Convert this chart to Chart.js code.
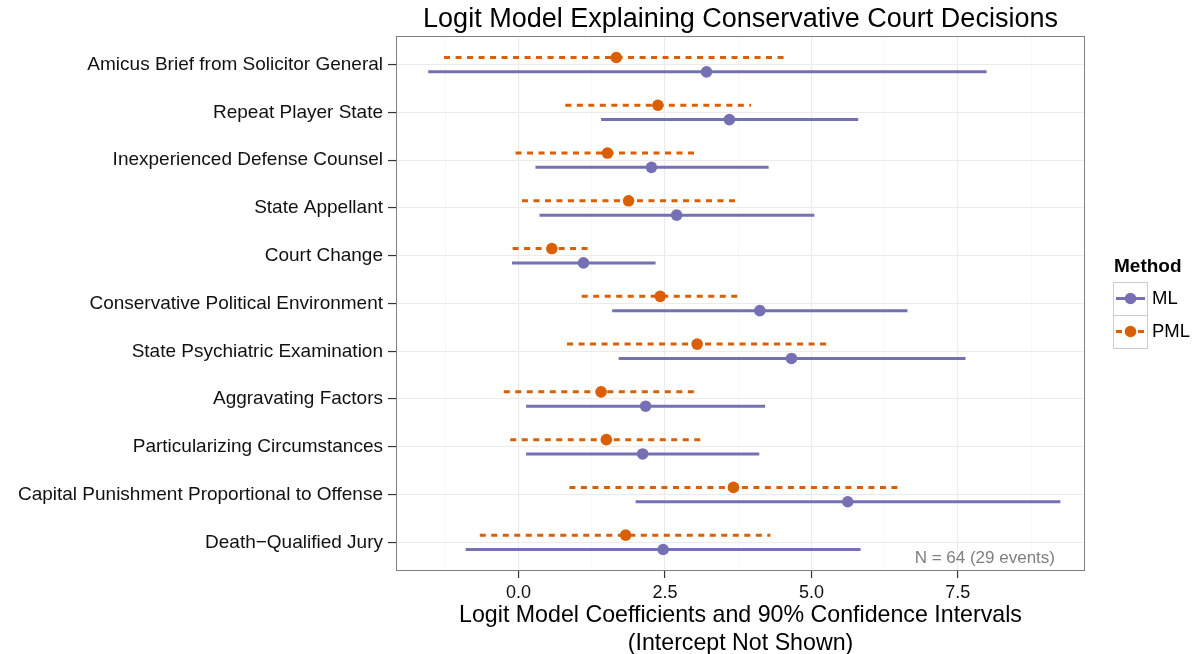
<!DOCTYPE html>
<html lang="en">
<head>
<meta charset="UTF-8">
<title>Logit Model Explaining Conservative Court Decisions</title>
<script src="https://cdn.jsdelivr.net/npm/chart.js@4.4.0/dist/chart.umd.min.js"></script>
<style>
body { margin: 0; background: #fff; }
#wrap { width: 1193px; height: 654px; }
</style>
</head>
<body>
<div id="wrap"><canvas id="courtChart" width="1193" height="654"></canvas></div>
<script>
// coefficient names, top to bottom
const categories = [
    "Amicus Brief from Solicitor General",
    "Repeat Player State",
    "Inexperienced Defense Counsel",
    "State Appellant",
    "Court Change",
    "Conservative Political Environment",
    "State Psychiatric Examination",
    "Aggravating Factors",
    "Particularizing Circumstances",
    "Capital Punishment Proportional to Offense",
    "Death\u2212Qualified Jury"
];

// ML estimates and 90% intervals
const mlEst  = [3.21, 3.60, 2.27, 2.70, 1.11, 4.12, 4.66, 2.17, 2.12, 5.62, 2.47];
const mlLow  = [-1.54, 1.41, 0.29, 0.36, -0.11, 1.60, 1.71, 0.13, 0.13, 2.00, -0.90];
const mlHigh = [7.99, 5.80, 4.27, 5.05, 2.34, 6.64, 7.63, 4.21, 4.11, 9.25, 5.84];

// PML estimates and 90% intervals
const pmlEst  = [1.67, 2.38, 1.52, 1.88, 0.57, 2.42, 3.05, 1.41, 1.50, 3.67, 1.83];
const pmlLow  = [-1.27, 0.80, -0.05, 0.06, -0.10, 1.08, 0.83, -0.25, -0.14, 0.87, -0.66];
const pmlHigh = [4.55, 3.97, 3.01, 3.71, 1.18, 3.74, 5.27, 3.00, 3.12, 6.49, 4.30];

// x axis: major ticks get labels, minor ones only a light grid line
const xTicks = [-1.25, 0, 1.25, 2.5, 3.75, 5, 6.25, 7.5, 8.75];
const xMin = -2.09;
const xMax = 9.67;

const ML_COLOR = "#7570b3";
const PML_COLOR = "#d95f02";
const FONT = '"Liberation Sans", Arial, sans-serif';
const DODGE = 0.15;

function isMajor(v) {
    return Math.abs(v / 2.5 - Math.round(v / 2.5)) < 1e-9;
}

// one line dataset per method: low, estimate, high, then a gap
function intervalData(low, est, high, shift) {
    const pts = [];
    categories.forEach((c, i) => {
        const y = i + shift;
        pts.push({ x: low[i], y: y }, { x: est[i], y: y }, { x: high[i], y: y }, { x: null, y: null });
    });
    return pts;
}

const legendItems = [
    { label: "ML", color: ML_COLOR, dash: [] },
    { label: "PML", color: PML_COLOR, dash: [6, 5] }
];

const extrasPlugin = {
    id: "extras",
    afterDatasetsDraw(chart) {
        const ctx = chart.ctx;
        const a = chart.chartArea;
        ctx.save();
        // panel border
        ctx.strokeStyle = "#7f7f7f";
        ctx.lineWidth = 1;
        ctx.strokeRect(a.left + 0.5, a.top + 0.5, a.right - a.left - 1, a.bottom - a.top - 1);
        // sample size note
        ctx.fillStyle = "#7f7f7f";
        ctx.font = "17px " + FONT;
        ctx.textAlign = "right";
        ctx.textBaseline = "middle";
        ctx.fillText("N = 64 (29 events)", a.right - 30, a.bottom - 13);
        ctx.restore();
    },
    afterDraw(chart) {
        const ctx = chart.ctx;
        const left = chart.chartArea.right + 28;
        ctx.save();
        ctx.textBaseline = "middle";
        ctx.textAlign = "left";
        ctx.fillStyle = "#000";
        ctx.font = "bold 19px " + FONT;
        ctx.fillText("Method", left + 1, 267);
        legendItems.forEach((item, k) => {
            const top = 282 + k * 33;
            const mid = top + 16.5;
            ctx.setLineDash([]);
            ctx.strokeStyle = "#cccccc";
            ctx.lineWidth = 1;
            ctx.strokeRect(left + 0.5, top + 0.5, 34, 33);
            ctx.strokeStyle = item.color;
            ctx.lineWidth = 3;
            ctx.setLineDash(item.dash);
            ctx.beginPath();
            ctx.moveTo(left + 3, mid);
            ctx.lineTo(left + 32, mid);
            ctx.stroke();
            ctx.fillStyle = item.color;
            ctx.beginPath();
            ctx.arc(left + 17.5, mid, 5.8, 0, Math.PI * 2);
            ctx.fill();
            ctx.fillStyle = "#000";
            ctx.font = "18.5px " + FONT;
            ctx.fillText(item.label, left + 39, mid);
        });
        ctx.restore();
    }
};

const ctx = document.getElementById("courtChart").getContext("2d");
const chart = new Chart(ctx, {
    type: "line",
    data: {
        datasets: [
            {
                label: "ML",
                data: intervalData(mlLow, mlEst, mlHigh, DODGE),
                borderColor: ML_COLOR,
                backgroundColor: ML_COLOR,
                borderWidth: 3,
                borderCapStyle: "butt",
                pointRadius: c => (c.dataIndex % 4 === 1 ? 5.8 : 0),
                pointBorderWidth: 0,
                pointBackgroundColor: ML_COLOR,
                spanGaps: false,
                tension: 0
            },
            {
                label: "PML",
                data: intervalData(pmlLow, pmlEst, pmlHigh, -DODGE),
                borderColor: PML_COLOR,
                backgroundColor: PML_COLOR,
                borderWidth: 3,
                borderDash: [6, 5.5],
                borderCapStyle: "butt",
                pointRadius: c => (c.dataIndex % 4 === 1 ? 5.8 : 0),
                pointBorderWidth: 0,
                pointBackgroundColor: PML_COLOR,
                spanGaps: false,
                tension: 0
            }
        ]
    },
    options: {
        responsive: false,
        animation: false,
        events: [],
        layout: { padding: { top: 0, right: 108, bottom: 0, left: 0 } },
        plugins: {
            legend: { display: false },
            tooltip: { enabled: false },
            title: {
                display: true,
                text: "Logit Model Explaining Conservative Court Decisions",
                fullSize: false,
                color: "#000",
                font: { family: FONT, size: 27, weight: "normal", lineHeight: 1 },
                padding: { top: 6.5, bottom: 2.5 }
            }
        },
        scales: {
            x: {
                type: "linear",
                min: xMin,
                max: xMax,
                afterBuildTicks: s => { s.ticks = xTicks.map(v => ({ value: v })); },
                afterFit: s => { s.height = 83; },
                ticks: {
                    autoSkip: false,
                    maxRotation: 0,
                    padding: 4,
                    color: "#111",
                    font: { family: FONT, size: 18 },
                    callback: v => (isMajor(v) ? v.toFixed(1) : "")
                },
                grid: {
                    color: c => (isMajor(c.tick.value) ? "#ebebeb" : "#f3f3f3"),
                    lineWidth: c => (isMajor(c.tick.value) ? 1.1 : 0.6),
                    tickColor: c => (isMajor(c.tick.value) ? "#333" : "rgba(0,0,0,0)"),
                    tickLength: 7,
                    tickWidth: 1.2
                },
                border: { display: false },
                title: {
                    display: true,
                    text: ["Logit Model Coefficients and 90% Confidence Intervals", "(Intercept Not Shown)"],
                    color: "#000",
                    font: { family: FONT, size: 23.2, lineHeight: 1.22 },
                    padding: { top: 0, bottom: -4 }
                }
            },
            y: {
                type: "linear",
                reverse: true,
                min: -0.6,
                max: categories.length - 0.4,
                afterBuildTicks: s => { s.ticks = categories.map((c, i) => ({ value: i })); },
                afterFit: s => { s.width = 396; },
                ticks: {
                    autoSkip: false,
                    padding: 5,
                    color: "#111",
                    font: { family: FONT, size: 19 },
                    callback: v => categories[v]
                },
                grid: {
                    color: "#ebebeb",
                    lineWidth: 1.1,
                    tickColor: "#333",
                    tickLength: 8,
                    tickWidth: 1.2
                },
                border: { display: false }
            }
        }
    },
    plugins: [extrasPlugin]
});
</script>
</body>
</html>
